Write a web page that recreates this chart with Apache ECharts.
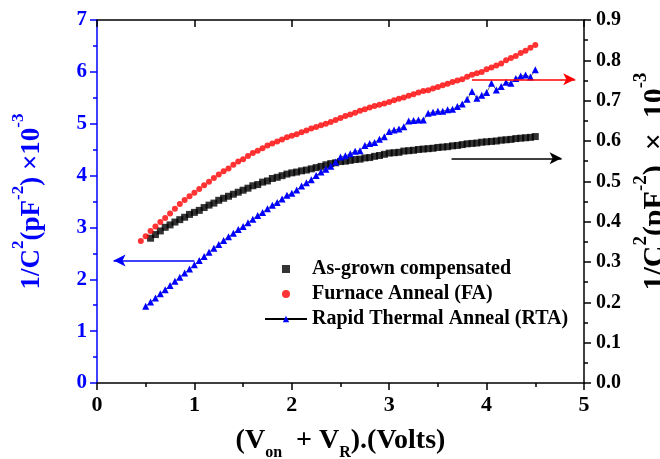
<!DOCTYPE html>
<html>
<head>
<meta charset="utf-8">
<script src="https://cdn.jsdelivr.net/npm/echarts@6/dist/echarts.min.js"></script>
<style>html,body{margin:0;padding:0;background:#fff}#c{width:660px;height:459px}</style>
</head>
<body>
<div id="c"></div>
<script>
// ---- data ----
var seriesNames = ['As-grown compensated', 'Furnace Anneal (FA)', 'Rapid Thermal Anneal (RTA)'];
var xTickLabels = ['0','1','2','3','4','5'];

// As-grown compensated (right axis units)
var asGrownX = [0.55,0.6,0.65,0.7,0.75,0.8,0.85,0.9,0.95,1.0,1.05,1.1,1.15,1.2,1.25,1.3,1.35,1.4,1.45,1.5,1.55,1.6,1.65,1.7,1.75,1.8,1.85,1.9,1.95,2.0,2.05,2.1,2.15,2.2,2.25,2.3,2.35,2.4,2.45,2.5,2.55,2.6,2.65,2.7,2.75,2.8,2.85,2.9,2.95,3.0,3.05,3.1,3.15,3.2,3.25,3.3,3.35,3.4,3.45,3.5,3.55,3.6,3.65,3.7,3.75,3.8,3.85,3.9,3.95,4.0,4.05,4.1,4.15,4.2,4.25,4.3,4.35,4.4,4.45,4.5];
var asGrownY = [0.359,0.368,0.377,0.386,0.392,0.399,0.405,0.411,0.418,0.423,
0.428,0.435,0.441,0.446,0.453,0.458,0.463,0.468,0.473,0.478,
0.483,0.489,0.492,0.498,0.501,0.507,0.510,0.514,0.518,0.521,
0.523,0.526,0.528,0.531,0.534,0.537,0.541,0.544,0.546,0.549,
0.550,0.552,0.554,0.555,0.558,0.559,0.562,0.564,0.567,0.570,
0.571,0.572,0.575,0.576,0.577,0.579,0.580,0.581,0.582,0.584,
0.585,0.586,0.588,0.589,0.591,0.593,0.594,0.595,0.597,0.598,
0.599,0.600,0.602,0.603,0.604,0.606,0.607,0.608,0.609,0.611];

// Furnace Anneal (right axis units)
var faX = [0.45,0.5,0.55,0.6,0.65,0.7,0.75,0.8,0.85,0.9,0.95,1.0,1.05,1.1,1.15,1.2,1.25,1.3,1.35,1.4,1.45,1.5,1.55,1.6,1.65,1.7,1.75,1.8,1.85,1.9,1.95,2.0,2.05,2.1,2.15,2.2,2.25,2.3,2.35,2.4,2.45,2.5,2.55,2.6,2.65,2.7,2.75,2.8,2.85,2.9,2.95,3.0,3.05,3.1,3.15,3.2,3.25,3.3,3.35,3.4,3.45,3.5,3.55,3.6,3.65,3.7,3.75,3.8,3.85,3.9,3.95,4.0,4.05,4.1,4.15,4.2,4.25,4.3,4.35,4.4,4.45,4.5];
var faY = [0.352,0.364,0.377,0.388,0.399,0.409,0.420,0.432,0.444,0.454,
0.463,0.472,0.481,0.490,0.499,0.508,0.517,0.525,0.532,0.541,
0.549,0.555,0.563,0.570,0.576,0.582,0.589,0.594,0.599,0.604,
0.609,0.613,0.617,0.622,0.626,0.631,0.635,0.639,0.643,0.647,
0.652,0.657,0.662,0.666,0.670,0.675,0.679,0.683,0.687,0.690,
0.693,0.697,0.701,0.705,0.708,0.712,0.716,0.720,0.724,0.726,
0.730,0.734,0.738,0.742,0.746,0.750,0.753,0.759,0.764,0.768,
0.771,0.778,0.782,0.787,0.792,0.800,0.806,0.811,0.818,0.824,
0.831,0.838];

// Rapid Thermal Anneal (left axis units)
var rtaX = [0.5,0.55,0.6,0.65,0.7,0.75,0.8,0.85,0.9,0.95,1.0,1.05,1.1,1.15,1.2,1.25,1.3,1.35,1.4,1.45,1.5,1.55,1.6,1.65,1.7,1.75,1.8,1.85,1.9,1.95,2.0,2.05,2.1,2.15,2.2,2.25,2.3,2.35,2.4,2.45,2.5,2.55,2.6,2.65,2.7,2.75,2.8,2.85,2.9,2.95,3.0,3.05,3.1,3.15,3.2,3.25,3.3,3.35,3.4,3.45,3.5,3.55,3.6,3.65,3.7,3.75,3.8,3.85,3.9,3.95,4.0,4.05,4.1,4.15,4.2,4.25,4.3,4.35,4.4,4.45,4.5];
var rtaY = [1.48,1.56,1.64,1.72,1.80,1.88,1.96,2.04,2.12,2.20,
2.28,2.36,2.44,2.52,2.60,2.67,2.75,2.82,2.89,2.96,
3.02,3.09,3.16,3.23,3.29,3.36,3.43,3.48,3.55,3.62,
3.66,3.72,3.80,3.86,3.92,4.00,4.07,4.12,4.18,4.26,
4.36,4.38,4.42,4.47,4.48,4.58,4.62,4.64,4.70,4.75,
4.85,4.88,4.90,4.94,5.05,5.06,5.07,5.07,5.20,5.22,
5.24,5.24,5.27,5.28,5.33,5.38,5.47,5.62,5.49,5.55,
5.60,5.78,5.65,5.72,5.80,5.78,5.87,5.92,5.94,5.90,
6.04];

// annotation arrows [x0, y0, x1, y1]
var rtaArrow = [1.0, 2.36, 0.17, 2.36];      // left axis
var faArrow = [3.85, 0.753, 4.91, 0.753];    // right axis
var asGrownArrow = [3.64, 0.557, 4.77, 0.557]; // right axis

function zip(xs, ys) { var out = []; for (var i = 0; i < Math.min(xs.length, ys.length); i++) out.push([xs[i], ys[i]]); return out; }

var FONT = 'Liberation Serif';
var BLUE = '#0000ff';
var nameRich = {
  sup: { fontSize: 17, lineHeight: 16, verticalAlign: 'top', fontWeight: 'bold', fontFamily: FONT },
  sub: { fontSize: 16, lineHeight: 14, verticalAlign: 'bottom', fontWeight: 'bold', fontFamily: FONT }
};
var nameRichR = {
  sup: { fontSize: 19, lineHeight: 17, verticalAlign: 'top', fontWeight: 'bold', fontFamily: FONT }
};

function arrowLine(a, color) {
  return {
    silent: true, symbol: ['none', 'arrow'], symbolSize: [9, 12],
    label: { show: false },
    lineStyle: { color: color, width: 1.5, type: 'solid' },
    data: [[{ coord: [a[0], a[1]] }, { coord: [a[2], a[3]] }]]
  };
}

var chart = echarts.init(document.getElementById('c'), null, { renderer: 'canvas' });
chart.setOption({
  animation: false,
  backgroundColor: '#fff',
  grid: { left: 97, right: 76, top: 20, bottom: 76, containLabel: false, outerBoundsMode: 'none' },
  legend: {
    orient: 'vertical', left: 259, top: 254, itemGap: 5,
    itemWidth: 42, itemHeight: 8,
    textStyle: { fontFamily: FONT, fontWeight: 'bold', fontSize: 20, color: '#000' },
    data: [
      { name: seriesNames[0], icon: 'path://M0,0L1,0L1,1L0,1Z' },
      { name: seriesNames[1], icon: 'circle' },
      { name: seriesNames[2] }
    ]
  },
  xAxis: [{
    type: 'value', position: 'bottom', min: 0, max: 5, interval: 1,
    axisLine: { show: true, onZero: false, lineStyle: { color: '#000', width: 1.5 } },
    axisTick: { show: true, inside: false, length: 7, lineStyle: { color: '#000', width: 1.5 } },
    minorTick: { show: true, splitNumber: 2, length: 4, lineStyle: { color: '#000', width: 1.5 } },
    splitLine: { show: false },
    axisLabel: { margin: 11, fontFamily: FONT, fontWeight: 'bold', fontSize: 22, color: '#000',
      formatter: function (v) { return xTickLabels[Math.round(v)]; } },
    name: '(V{sub|on}  + V{sub|R}).(Volts)', nameLocation: 'middle', nameGap: 24,
    nameTextStyle: { fontFamily: FONT, fontWeight: 'bold', fontSize: 28, color: '#000', lineHeight: 40, rich: nameRich }
  }, {
    type: 'value', position: 'top', min: 0, max: 5, interval: 1,
    axisLine: { show: true, onZero: false, lineStyle: { color: '#000', width: 1.5 } },
    axisTick: { show: true, inside: true, length: 7, lineStyle: { color: '#000', width: 1.5 } },
    minorTick: { show: false },
    splitLine: { show: false },
    axisLabel: { show: false }
  }],
  yAxis: [{
    type: 'value', position: 'left', min: 0, max: 7, interval: 1,
    axisLine: { show: true, onZero: false, lineStyle: { color: BLUE, width: 1.5 } },
    axisTick: { show: true, inside: false, length: 7, lineStyle: { color: BLUE, width: 1.5 } },
    minorTick: { show: true, splitNumber: 2, length: 4, lineStyle: { color: BLUE, width: 1.5 } },
    splitLine: { show: false },
    axisLabel: { margin: 10, fontFamily: FONT, fontWeight: 'bold', fontSize: 21, color: BLUE },
    name: '1/C{sup|2}(pF{sup|-2}) ×10{sup|-3}', nameLocation: 'middle', nameGap: 43,
    nameTextStyle: { fontFamily: FONT, fontWeight: 'bold', fontSize: 27, color: BLUE, lineHeight: 44, rich: nameRich }
  }, {
    type: 'value', position: 'right', min: 0, max: 0.9, interval: 0.1,
    axisLine: { show: true, onZero: false, lineStyle: { color: '#000', width: 1.5 } },
    axisTick: { show: true, inside: false, length: 7, lineStyle: { color: '#000', width: 1.5 } },
    minorTick: { show: true, splitNumber: 2, length: 4, lineStyle: { color: '#000', width: 1.5 } },
    splitLine: { show: false },
    axisLabel: { margin: 12, fontFamily: FONT, fontWeight: 'bold', fontSize: 20, color: '#000',
      formatter: function (v) { return v.toFixed(1); } },
    name: '1/C{sup|2}(pF{sup|-2})  ×  10{sup|-3}', nameLocation: 'middle', nameGap: 37,
    nameTextStyle: { fontFamily: FONT, fontWeight: 'bold', fontSize: 30, color: '#000', lineHeight: 46, padding: [0, 0, 0, 40], rich: nameRichR }
  }],
  series: [{
    name: seriesNames[0], type: 'scatter', xAxisIndex: 0, yAxisIndex: 1,
    symbol: 'rect', symbolSize: 7,
    itemStyle: { color: '#000' },
    data: zip(asGrownX, asGrownY),
    markLine: arrowLine(asGrownArrow, '#000')
  }, {
    name: seriesNames[1], type: 'scatter', xAxisIndex: 0, yAxisIndex: 1,
    symbol: 'circle', symbolSize: 6,
    itemStyle: { color: '#ff0000' },
    data: zip(faX, faY),
    markLine: arrowLine(faArrow, '#ff0000')
  }, {
    name: seriesNames[2], type: 'line', xAxisIndex: 0, yAxisIndex: 0,
    symbol: 'triangle', symbolSize: 7, showSymbol: true,
    itemStyle: { color: BLUE },
    lineStyle: { color: '#000', width: 0.6 },
    data: zip(rtaX, rtaY),
    markLine: arrowLine(rtaArrow, BLUE)
  }]
});
</script>
</body>
</html>
